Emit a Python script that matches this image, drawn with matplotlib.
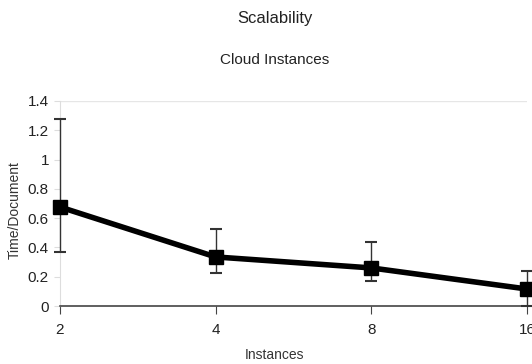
import matplotlib
matplotlib.use("Agg")
import matplotlib.pyplot as plt

instances = ["2", "4", "8", "16"]
time_per_doc = [0.676, 0.335, 0.26, 0.116]
err_low = [0.369, 0.225, 0.171, 0.0]
err_high = [1.277, 0.526, 0.437, 0.239]
yticks = [0, 0.2, 0.4, 0.6, 0.8, 1, 1.2, 1.4]
ytick_labels = ["0", "0.2", "0.4", "0.6", "0.8", "1", "1.2", "1.4"]

plt.rcParams["font.family"] = ["Liberation Sans Narrow", "Liberation Sans", "DejaVu Sans"]

W, H = 532, 364
fig = plt.figure(figsize=(W / 100, H / 100), dpi=100)
ax = fig.add_axes([60 / W, (H - 306) / H, (527 - 60) / W, (306 - 101) / H])

x = list(range(len(instances)))
lower = [v - lo for v, lo in zip(time_per_doc, err_low)]
upper = [hi - v for v, hi in zip(time_per_doc, err_high)]
ax.errorbar(x, time_per_doc, yerr=[lower, upper], color="#333333", ecolor="#333333",
            elinewidth=1, capsize=4, capthick=1.5, fmt="none", clip_on=False, zorder=3)
ax.plot(x, time_per_doc, color="black", linewidth=4, marker="s", markersize=10,
        clip_on=False, zorder=4)

ax.set_xlim(0, len(instances) - 1)
ax.set_ylim(0, 1.4)
ax.set_xticks(x)
ax.set_xticklabels(instances, fontsize=11, color="#222222")
ax.set_yticks(yticks)
ax.set_yticklabels(ytick_labels, fontsize=11, color="#222222")
ax.axhline(1.4, color="#e6e6e6", linewidth=1, zorder=0)

for side in ["top", "right"]:
    ax.spines[side].set_visible(False)
ax.spines["left"].set_color("#dddddd")
ax.spines["bottom"].set_color("#444444")
ax.spines["bottom"].set_linewidth(1.2)
ax.tick_params(axis="y", length=4, color="#dddddd", pad=4)
ax.tick_params(axis="x", length=6, color="#444444", pad=6)

fig.text(275 / W, 1 - 18 / H, "Scalability", ha="center", va="center", fontsize=12, color="#222222")
fig.text(275 / W, 1 - 60 / H, "Cloud Instances", ha="center", va="center", fontsize=11, color="#222222")
fig.text(15 / W, 1 - 210 / H, "Time/Document", rotation=90, ha="center", va="center",
         fontsize=10, color="#333333")
fig.text(275 / W, 1 - 355 / H, "Instances", ha="center", va="center", fontsize=10, color="#333333")

fig.savefig("out.png", dpi=100)
